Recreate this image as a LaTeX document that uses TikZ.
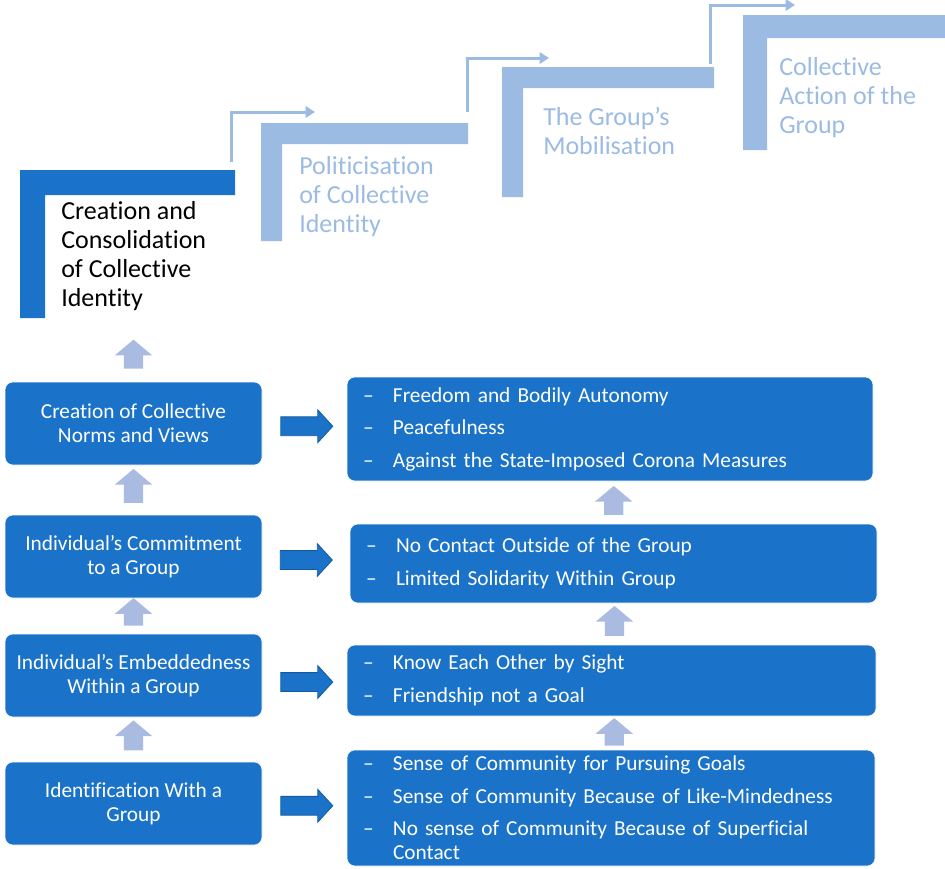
\documentclass[tikz,border=0pt]{standalone}
\usepackage{fontspec}
\setmainfont{Carlito}[Ligatures=NoCommon]
\usetikzlibrary{arrows.meta,shapes.arrows,calc}
\definecolor{darkblue}{HTML}{1A73C8}
\definecolor{lightblue}{HTML}{9BBBE3}
\definecolor{arrowblue}{HTML}{A9BBE1}
\definecolor{edgeblue}{HTML}{155A9E}
\tikzset{
  steptext/.style={anchor=west, align=left, inner sep=0pt, text=lightblue, font=\fontsize{19.5}{21.75}\selectfont},
  steplink/.style={draw=lightblue, line width=2.25pt, -{Triangle[width=8.5pt,length=7pt]}},
  leftbox/.style={fill=darkblue, draw=white, rounded corners=6pt, minimum width=192.75pt, minimum height=62.25pt, align=center, text=white, font=\fontsize{16}{18}\selectfont},
  rightbox/.style={fill=darkblue, draw=white, rounded corners=6pt, text=white, align=left, inner xsep=12pt, font=\fontsize{16}{18}\selectfont},
  uparrow/.style={single arrow, fill=arrowblue, shape border rotate=90, inner sep=7.1pt, single arrow head extend=6.75pt, single arrow tip angle=100, minimum width=27.75pt},
  rightarrow/.style={single arrow, fill=darkblue, draw=edgeblue, line width=0.6pt, inner xsep=0pt, inner ysep=6.75pt, single arrow head extend=5.25pt, single arrow tip angle=95, minimum height=39pt, minimum width=24pt},
}
\newcommand{\itm}[1]{\makebox[22.5pt][l]{–}#1}
\begin{document}
\begin{tikzpicture}[x=0.75pt,y=-0.75pt]
\useasboundingbox (0,0) rectangle (945,868);
% steps
\fill[darkblue] (20,170) -- (235,170) -- (235,195) -- (45,195) -- (45,318) -- (20,318) -- cycle;
\node[steptext, text=black] (t1) at (61,256.5) {Creation and\\Consolidation\\of Collective\\Identity};
\fill[lightblue] (261,123) -- (468,123) -- (468,144) -- (282,144) -- (282,241) -- (261,241) -- cycle;
\node[steptext] (t2) at (299,197) {Politicisation\\of Collective\\Identity};
\fill[lightblue] (502,67) -- (714,67) -- (714,88) -- (523,88) -- (523,197) -- (502,197) -- cycle;
\node[steptext] (t3) at (543,131) {The Group’s\\Mobilisation};
\fill[lightblue] (743,15) -- (945,15) -- (945,38) -- (767,38) -- (767,150) -- (743,150) -- cycle;
\node[steptext] (t4) at (779,98) {Collective\\Action of the\\Group};
\coordinate (c1a) at (231,162); \coordinate (c1b) at (315,112);
\coordinate (c2a) at (467,112); \coordinate (c2b) at (549,58);
\coordinate (c3a) at (710,64); \coordinate (c3b) at (795,5);
\draw[steplink] (c1a) |- (c1b);
\draw[steplink] (c2a) |- (c2b);
\draw[steplink] (c3a) |- (c3b);
% left column
\node[leftbox] (nA) at (133.5,423.5) {Creation of Collective\\Norms and Views};
\node[leftbox] (nB) at (133.5,556.5) {Individual’s Commitment\\to a Group};
\node[leftbox] (nC) at (133.5,675.5) {Individual’s Embeddedness\\Within a Group};
\node[leftbox] (nD) at (133.5,803.5) {Identification With a\\Group};
% right column
\node[rightbox, minimum height=78pt, text width=370.5pt] (r1) at (610,429)
  {\itm{Freedom and Bodily Autonomy}\\[6.4pt]\itm{Peacefulness}\\[6.4pt]\itm{Against the State-Imposed Corona Measures}};
\node[rightbox, minimum height=59.25pt, text width=371.25pt] (r2) at (613.5,563.5)
  {\itm{No Contact Outside of the Group}\\[6.4pt]\itm{Limited Solidarity Within Group}};
\node[rightbox, minimum height=53.25pt, text width=372.75pt] (r3) at (611.5,680.5)
  {\itm{Know Each Other by Sight}\\[6.4pt]\itm{Friendship not a Goal}};
\node[rightbox, minimum height=87pt, text width=372pt] (r4) at (611,808)
  {\itm{Sense of Community for Pursuing Goals}\\[6.4pt]\itm{Sense of Community Because of Like-Mindedness}\\[6.4pt]\itm{No sense of Community Because of Superficial}\\\hspace*{22.5pt}Contact};
% arrows
\node[uparrow, minimum height=21.75pt] (uA) at ($(nA.north)+(0,-23.5)$) {};
\node[uparrow, minimum height=25.5pt] (uAB) at ($(nA.south)!0.5!(nB.north)$) {};
\node[uparrow, minimum height=18.75pt] (uBC) at ($(nB.south)!0.5!(nC.north)$) {};
\node[uparrow, minimum height=22.5pt] (uCD) at ($(nC.south)!0.5!(nD.north)$) {};
\node[uparrow, minimum height=21.75pt] (u12) at ($(r1.south)!0.5!(r2.north)+(2,2)$) {};
\node[uparrow, minimum height=22.5pt] (u23) at ($(r2.south)!0.5!(r3.north)+(2,1)$) {};
\node[uparrow, minimum height=18pt] (u34) at ($(r3.south)!0.5!(r4.north)+(3,3)$) {};
\node[rightarrow] (aA) at ($(nA.east)!0.5!(r1.west)+(-2,0)$) {};
\node[rightarrow] (aB) at ($(nB.east)!0.5!(r2.west)+(-4,0)$) {};
\node[rightarrow] (aC) at ($(nC.east)!0.5!(r3.west)+(-2,4)$) {};
\node[rightarrow] (aD) at ($(nD.east)!0.5!(r4.west)+(-2,0)$) {};
\end{tikzpicture}
\end{document}
